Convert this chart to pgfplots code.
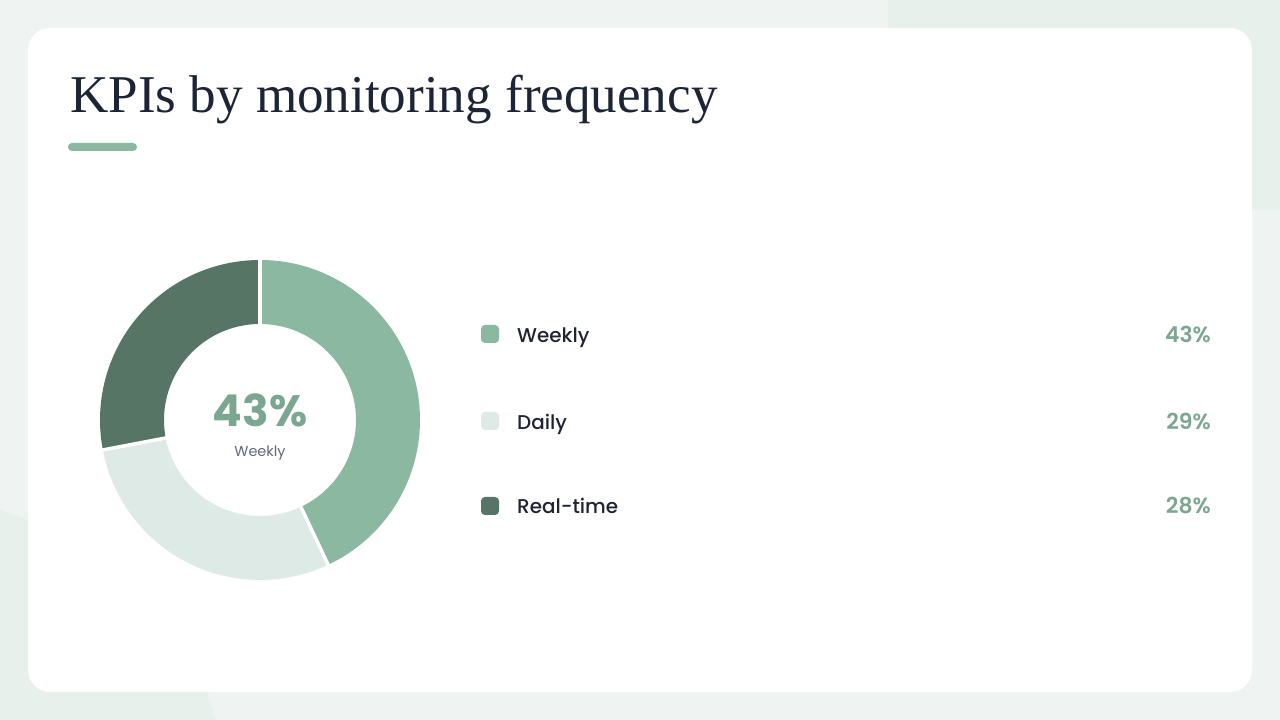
\documentclass[border=0pt]{standalone}
\usepackage{fontspec}
\setmainfont{Liberation Serif}
\newfontfamily\popmed{Poppins Medium}
\newfontfamily\popsemi{Poppins SemiBold}
\newfontfamily\popbold{Poppins Bold}
\newfontfamily\popreg{Poppins}
\usepackage{pgfplots}
\usepackage{pgfplotstable}
\pgfplotsset{compat=1.18}
\definecolor{bgc}{HTML}{EFF4F2}
\definecolor{tint}{HTML}{E7F0EB}
\definecolor{titlec}{HTML}{1C2536}
\definecolor{barc}{HTML}{8AB8A0}
\definecolor{cweekly}{HTML}{8AB8A0}
\definecolor{cdaily}{HTML}{DEEAE5}
\definecolor{creal}{HTML}{567565}
\definecolor{pctc}{HTML}{7BA68F}
\definecolor{labc}{HTML}{1F2433}
\definecolor{subc}{HTML}{5E6A7E}
\pgfplotstableread{
label value
Weekly 43
Daily 29
Real-time 28
}\kpidata
\begin{document}
\begin{tikzpicture}[x=1bp,y=1bp]
\useasboundingbox (0,0) rectangle (1280,720);
\begin{scope}
\clip (0,0) rectangle (1280,720);
\fill[bgc] (0,0) rectangle (1280,720);
\fill[tint, rounded corners=40bp] (888,510) rectangle (1420,820);
\fill[tint] (0,210) -- (172,148) -- (207,28) -- (216,0) -- (0,0) -- cycle;
\end{scope}
\fill[white, rounded corners=22bp] (28,28) rectangle (1252,692);
% title
\node[anchor=base west, inner sep=0pt, text=titlec, font=\fontsize{53.3}{60}\selectfont] at (70,607) {KPIs by monitoring frequency};
\fill[barc, rounded corners=4bp] (68,569) rectangle (137,577);
% data
\pgfplotstablegetelem{0}{value}\of\kpidata \pgfmathsetmacro\va{\pgfplotsretval}
\pgfplotstablegetelem{1}{value}\of\kpidata \pgfmathsetmacro\vb{\pgfplotsretval}
\pgfplotstablegetelem{2}{value}\of\kpidata \pgfmathsetmacro\vc{\pgfplotsretval}
\pgfmathsetmacro\aA{90}
\pgfmathsetmacro\aB{90-3.6*\va}
\pgfmathsetmacro\aC{\aB-3.6*\vb}
\pgfmathsetmacro\aD{\aC-3.6*\vc}
\begin{axis}[at={(260,300)}, anchor=center, x=1bp, y=1bp,
  xmin=-170, xmax=170, ymin=-170, ymax=170, hide axis, clip=false]
\begin{scope}[shift={(axis cs:0,0)}]
\fill[cweekly] (\aA:160bp) arc[start angle=\aA, end angle=\aB, radius=160bp] -- (\aB:96bp) arc[start angle=\aB, end angle=\aA, radius=96bp] -- cycle;
\fill[cdaily] (\aB:160bp) arc[start angle=\aB, end angle=\aC, radius=160bp] -- (\aC:96bp) arc[start angle=\aC, end angle=\aB, radius=96bp] -- cycle;
\fill[creal] (\aC:160bp) arc[start angle=\aC, end angle=\aD, radius=160bp] -- (\aD:96bp) arc[start angle=\aD, end angle=\aC, radius=96bp] -- cycle;
\draw[white, line width=3.5bp] (\aA:90bp) -- (\aA:166bp);
\draw[white, line width=3.5bp] (\aB:90bp) -- (\aB:166bp);
\draw[white, line width=3.5bp] (\aC:90bp) -- (\aC:166bp);
\end{scope}
\end{axis}
% center text
\node[anchor=base, inner sep=0pt, text=pctc, font=\popbold\fontsize{44}{50}\selectfont] at (260,293) {43\%};
\node[anchor=base, inner sep=0pt, text=subc, font=\popreg\fontsize{14.5}{17}\selectfont] at (260,263) {Weekly};
% legend
\fill[cweekly, rounded corners=4bp] (481,377) rectangle (499,395);
\fill[cdaily, rounded corners=4bp] (481,290) rectangle (499,308);
\fill[creal, rounded corners=4bp] (481,205) rectangle (499,223);
\node[anchor=base west, inner sep=0pt, text=labc, font=\popmed\fontsize{20}{24}\selectfont] at (517,377) {Weekly};
\node[anchor=base west, inner sep=0pt, text=labc, font=\popmed\fontsize{20}{24}\selectfont] at (517,290) {Daily};
\node[anchor=base west, inner sep=0pt, text=labc, font=\popmed\fontsize{20}{24}\selectfont] at (517,206) {Real-time};
\node[anchor=base east, inner sep=0pt, text=pctc, font=\popsemi\fontsize{22}{24}\selectfont] at (1211,377) {43\%};
\node[anchor=base east, inner sep=0pt, text=pctc, font=\popsemi\fontsize{22}{24}\selectfont] at (1211,290) {29\%};
\node[anchor=base east, inner sep=0pt, text=pctc, font=\popsemi\fontsize{22}{24}\selectfont] at (1211,206) {28\%};
\end{tikzpicture}
\end{document}
